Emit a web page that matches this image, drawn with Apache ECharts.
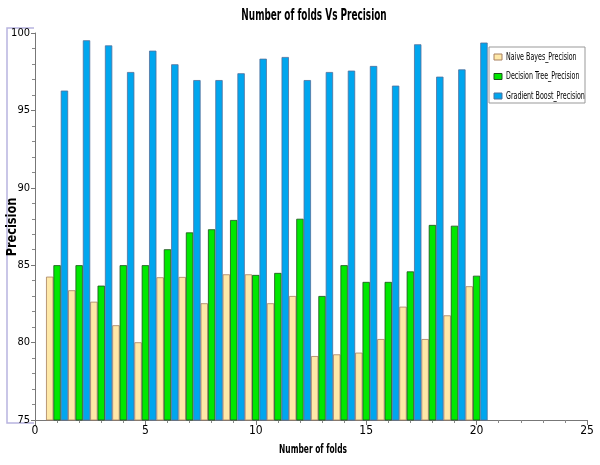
<!DOCTYPE html>
<html><head><meta charset="utf-8">
<script src="https://cdn.jsdelivr.net/npm/echarts@6/dist/echarts.min.js"></script>
<style>html,body{margin:0;padding:0;background:#fff}#c{width:600px;height:465px}</style>
</head><body><div id="c"></div>
<script>
const folds = [1,2,3,4,5,6,7,8,9,10,11,12,13,14,15,16,17,18,19,20];
const naiveBayes = [84.26,83.38,82.64,81.12,80.02,84.22,84.24,82.54,84.41,84.41,82.54,83.01,79.13,79.24,79.35,80.23,82.32,80.23,81.76,83.64];
const decisionTree = [85.0,85.0,83.68,85.0,85.0,86.03,87.12,87.32,87.92,84.37,84.5,88.0,83.01,85.0,83.92,83.92,84.6,87.6,87.55,84.32];
const gradientBoost = [96.28,99.53,99.2,97.48,98.86,97.98,96.96,96.96,97.4,98.34,98.45,96.96,97.48,97.57,97.87,96.6,99.27,97.18,97.65,99.38];
const seriesNames = ['Naive Bayes_Precision','Decision Tree_Precision','Gradient Boost_Precision'];
const titleText = 'Number of folds Vs Precision';
const xName = 'Number of folds';
const yName = 'Precision';

const font = "'DejaVu Sans Condensed','DejaVu Sans',sans-serif";
const colors = ['#FEE8A8','#00E800','#00A6EE'];
const borders = ['#a88060','#1e4e1e','#50709c'];
const chart = echarts.init(document.getElementById('c'));
const pair = arr => folds.map((f,i)=>[f,arr[i]]);
const mk = (i, arr) => ({
  name: seriesNames[i], type:'bar', data: pair(arr), barWidth: 7.36, barGap:'0%',
  itemStyle:{color: colors[i], borderColor: borders[i], borderWidth:0.8}
});
const legendItems = [];
seriesNames.forEach((n,i)=>{
  legendItems.push({type:'rect', shape:{x:494, y:54+i*19.5, width:8, height:6},
    style:{fill:colors[i], stroke:borders[i], lineWidth:1}, silent:true, z:10});
  legendItems.push({type:'text', x:506, y:57+i*19.5, scaleX:0.64, silent:true, z:10,
    style:{text:n, font:"11px " + font, fill:'#000', textVerticalAlign:'middle', textAlign:'left'}});
});
chart.setOption({
  animation:false,
  grid:{left:35, right:13, top:33, bottom:45, containLabel:false, outerBoundsMode:'none'},
  graphic:[
    {type:'polyline', silent:true, z:0,
      shape:{points:[[34,28],[7,28],[7,423],[34,423]]},
      style:{stroke:'#b8b4e0', lineWidth:1.5, fill:null}},
    {type:'text', x:314, y:16, scaleX:0.66, silent:true,
      style:{text:titleText, font:"bold 15px " + font, fill:'#000', textAlign:'center', textVerticalAlign:'middle'}},
    {type:'text', x:313, y:450, scaleX:0.64, silent:true,
      style:{text:xName, font:"bold 13px " + font, fill:'#000', textAlign:'center', textVerticalAlign:'middle'}},
    {type:'text', x:12, y:227, rotation:Math.PI/2, scaleX:0.9, silent:true,
      style:{text:yName, font:"bold 14px " + font, fill:'#000', textAlign:'center', textVerticalAlign:'middle'}},
    {type:'rect', shape:{x:489, y:47, width:96, height:56}, silent:true, z:9,
      style:{fill:'#fff', stroke:'#999', lineWidth:1}},
    ...legendItems
  ],
  xAxis:{type:'value', min:0, max:25, interval:5,
    axisLine:{lineStyle:{color:'#777'}}, axisTick:{show:true, length:5, lineStyle:{color:'#777'}},
    minorTick:{show:true, splitNumber:5, length:3, lineStyle:{color:'#888'}},
    splitLine:{show:false},
    axisLabel:{fontFamily:font, fontSize:12, color:'#000', margin:5}},
  yAxis:{type:'value', min:75, max:100, interval:5,
    axisLine:{show:true, lineStyle:{color:'#777'}}, axisTick:{show:true, length:4, lineStyle:{color:'#777'}},
    minorTick:{show:true, splitNumber:5, length:3, lineStyle:{color:'#888'}},
    splitLine:{show:false},
    axisLabel:{fontFamily:font, fontSize:11, color:'#000', margin:5}},
  series:[ mk(0, naiveBayes), mk(1, decisionTree), mk(2, gradientBoost) ]
});
</script></body></html>
